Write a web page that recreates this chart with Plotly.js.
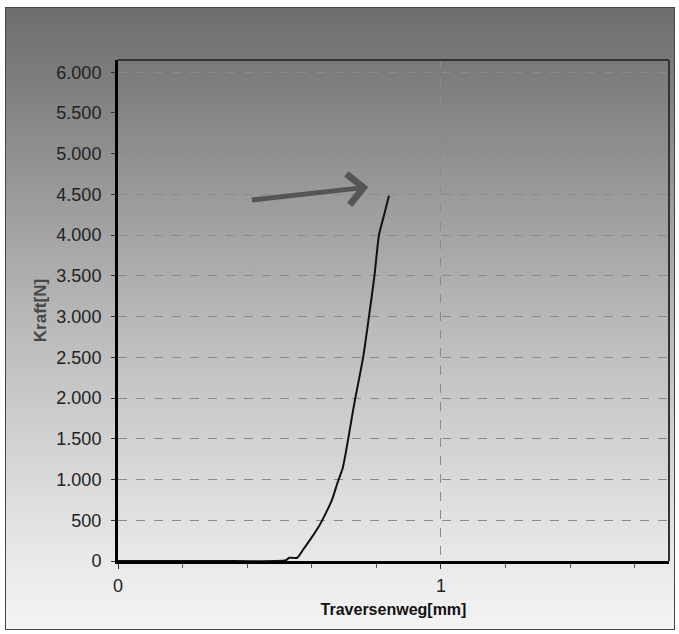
<!DOCTYPE html>
<html>
<head>
<meta charset="utf-8">
<script src="https://cdn.plot.ly/plotly-3.0.1.min.js"></script>
<style>
  html, body { margin: 0; padding: 0; background: #ffffff; }
  #wrap { position: relative; width: 679px; height: 634px; }
  #bg { position: absolute; left: 5px; top: 7px; width: 668px; height: 621px;
        border: 1px solid #444;
        background: linear-gradient(to bottom, #6e6e6e 0%, #7e7e7e 12%, #9a9a9a 30%, #b8b8b8 50%, #d2d2d2 70%, #e8e8e8 88%, #f4f4f4 100%); }
  #chart { position: absolute; left: 0; top: 0; width: 679px; height: 634px; }
</style>
</head>
<body>
<div id="wrap">
  <div id="bg"></div>
  <div id="chart"></div>
</div>
<script>
// Traversenweg [mm]
const travel = [0, 0.30, 0.52, 0.53, 0.555, 0.575, 0.594, 0.624, 0.645, 0.662, 0.680, 0.696, 0.708, 0.717, 0.733, 0.759, 0.777, 0.794, 0.808, 0.824, 0.839];
// Kraft [N]
const force  = [0, 0, 10, 40, 40, 150, 256, 439, 600, 744, 963, 1146, 1390, 1598, 1963, 2500, 3000, 3500, 4000, 4250, 4484];

const xTitle = 'Traversenweg[mm]';
const yTitle = 'Kraft[N]';

const trace = {
  x: travel, y: force, type: 'scatter', mode: 'lines',
  line: { color: '#111111', width: 2, shape: 'spline', smoothing: 0.6 },
  hoverinfo: 'skip', showlegend: false
};

const layout = {
  width: 679, height: 634,
  margin: { l: 118, r: 10, t: 60, b: 73 },
  paper_bgcolor: 'rgba(0,0,0,0)',
  plot_bgcolor: 'rgba(0,0,0,0)',
  separators: ',.',
  font: { family: 'Liberation Sans, Arial, sans-serif', color: '#222222' },
  xaxis: {
    range: [0, 1.706], dtick: 1, tick0: 0,
    showline: true, linecolor: '#000000', linewidth: 3,
    ticks: 'outside', ticklen: 5, tickcolor: '#333333', tickwidth: 1,
    tickfont: { size: 18, color: '#222222' },
    ticklabelstandoff: 1,
    showgrid: true, gridcolor: '#8a8a8a', griddash: 'dash', gridwidth: 1,
    zeroline: false,
    minor: { dtick: 0.2, ticks: 'outside', ticklen: 4, tickcolor: '#555555', showgrid: false },
    title: { text: xTitle, font: { size: 16, color: '#111111', family: 'Liberation Sans, Arial, sans-serif', weight: 'bold' }, standoff: 10 }
  },
  yaxis: {
    range: [0, 6150], dtick: 500, tick0: 0, tickformat: ',d',
    showline: true, linecolor: '#000000', linewidth: 3,
    ticks: 'outside', ticklen: 4, tickcolor: '#333333',
    tickfont: { size: 18, color: '#222222' },
    ticklabelstandoff: 6,
    showgrid: true, gridcolor: '#8a8a8a', griddash: 'dash', gridwidth: 1,
    zeroline: false,
    title: { text: yTitle, font: { size: 17, color: '#474747', family: 'Liberation Sans, Arial, sans-serif', weight: 'bold' }, standoff: 6 }
  },
  shapes: [
    { type: 'line', xref: 'paper', yref: 'paper', x0: 0, x1: 1, y0: 1, y1: 1, line: { color: '#333333', width: 2 } },
    { type: 'line', xref: 'paper', yref: 'paper', x0: 1, x1: 1, y0: 0, y1: 1, line: { color: '#333333', width: 2 } }
  ],
  annotations: [
    { x: 0.775, y: 4590, ax: 0.41, ay: 4430, xref: 'x', yref: 'y', axref: 'x', ayref: 'y',
      text: '', showarrow: true, arrowhead: 4, arrowsize: 1.2, arrowwidth: 5, arrowcolor: '#555555' }
  ]
};

Plotly.newPlot('chart', [trace], layout, { displayModeBar: false, staticPlot: true });
</script>
</body>
</html>
